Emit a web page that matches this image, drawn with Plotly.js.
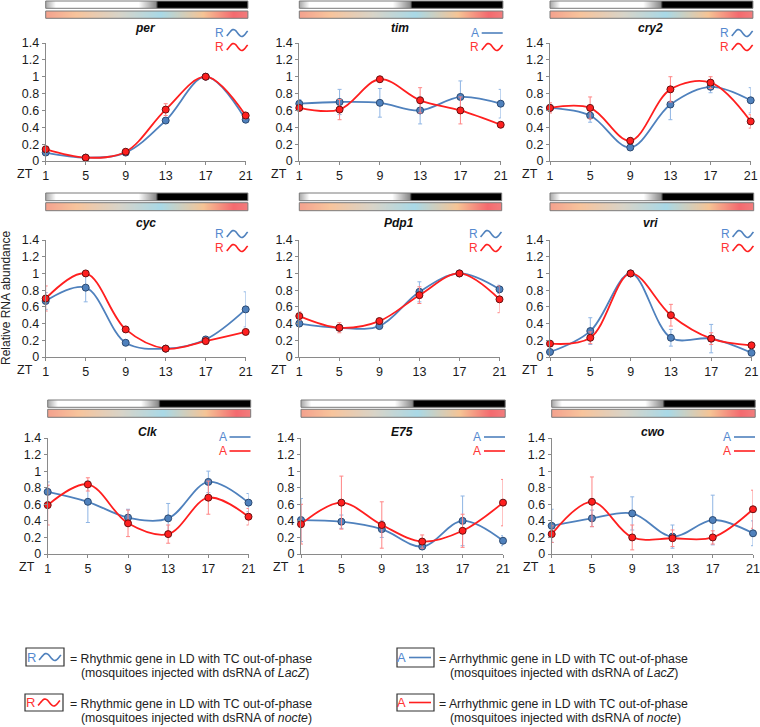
<!DOCTYPE html>
<html><head><meta charset="utf-8">
<script src="https://cdn.plot.ly/plotly-3.0.1.min.js"></script>
<style>html,body{margin:0;padding:0;background:#fff}</style>
</head><body><div id="chart" style="width:760px;height:727px"></div>
<script>
// ---------------- DATA ----------------
const zt = [1, 5, 9, 13, 17, 21];
const xTickLabels = ['1', '5', '9', '13', '17', '21'];
const yTickVals = [0, 0.2, 0.4, 0.6, 0.8, 1, 1.2, 1.4];
const yTickText = ['0', '0.2', '0.4', '0.6', '0.8', '1', '1.2', '1.4'];
const genes = ['per', 'tim', 'cry2', 'cyc', 'Pdp1', 'vri', 'Clk', 'E75', 'cwo'];
const lacZClass = ['R', 'A', 'R', 'R', 'R', 'R', 'A', 'A', 'A'];
const nocteClass = ['R', 'R', 'R', 'R', 'R', 'R', 'A', 'A', 'A'];

// dsRNA LacZ (blue)
const perLacZ  = [0.10, 0.04, 0.10, 0.48, 1.00, 0.49];
const timLacZ  = [0.68, 0.70, 0.69, 0.60, 0.76, 0.68];
const cry2LacZ = [0.63, 0.54, 0.16, 0.67, 0.88, 0.72];
const cycLacZ  = [0.67, 0.83, 0.17, 0.10, 0.21, 0.57];
const pdp1LacZ = [0.40, 0.35, 0.37, 0.78, 1.00, 0.81];
const vriLacZ  = [0.06, 0.31, 1.00, 0.23, 0.22, 0.05];
const clkLacZ  = [0.75, 0.63, 0.44, 0.43, 0.87, 0.62];
const e75LacZ  = [0.41, 0.39, 0.30, 0.09, 0.40, 0.16];
const cwoLacZ  = [0.34, 0.43, 0.49, 0.21, 0.41, 0.25];

const perLacZErr  = [0.02, 0.01, 0.02, 0.02, 0.01, 0.02];
const timLacZErr  = [0.05, 0.15, 0.17, 0.16, 0.19, 0.17];
const cry2LacZErr = [0.03, 0.08, 0.02, 0.18, 0.07, 0.15];
const cycLacZErr  = [0.10, 0.17, 0.03, 0.02, 0.03, 0.21];
const pdp1LacZErr = [0.02, 0.03, 0.02, 0.12, 0.01, 0.05];
const vriLacZErr  = [0.02, 0.16, 0.01, 0.10, 0.17, 0.02];
const clkLacZErr  = [0.12, 0.25, 0.10, 0.18, 0.13, 0.11];
const e75LacZErr  = [0.26, 0.08, 0.10, 0.02, 0.30, 0.06];
const cwoLacZErr  = [0.20, 0.10, 0.20, 0.14, 0.30, 0.15];

// dsRNA nocte (red)
const perNocte  = [0.14, 0.04, 0.11, 0.61, 1.00, 0.54];
const timNocte  = [0.63, 0.61, 0.97, 0.72, 0.60, 0.43];
const cry2Nocte = [0.63, 0.63, 0.24, 0.85, 0.93, 0.47];
const cycNocte  = [0.70, 1.00, 0.33, 0.10, 0.19, 0.30];
const pdp1Nocte = [0.49, 0.35, 0.43, 0.74, 1.00, 0.69];
const vriNocte  = [0.16, 0.23, 1.00, 0.50, 0.22, 0.14];
const clkNocte  = [0.59, 0.84, 0.37, 0.24, 0.68, 0.45];
const e75Nocte  = [0.36, 0.62, 0.35, 0.15, 0.28, 0.62];
const cwoNocte  = [0.24, 0.63, 0.20, 0.19, 0.20, 0.54];

const perNocteErr  = [0.02, 0.02, 0.02, 0.07, 0.01, 0.04];
const timNocteErr  = [0.03, 0.12, 0.03, 0.15, 0.16, 0.01];
const cry2NocteErr = [0.06, 0.13, 0.03, 0.15, 0.07, 0.08];
const cycNocteErr  = [0.15, 0.01, 0.02, 0.02, 0.04, 0.02];
const pdp1NocteErr = [0.05, 0.06, 0.03, 0.10, 0.01, 0.16];
const vriNocteErr  = [0.02, 0.07, 0.01, 0.13, 0.07, 0.02];
const clkNocteErr  = [0.24, 0.08, 0.16, 0.11, 0.20, 0.10];
const e75NocteErr  = [0.24, 0.32, 0.28, 0.08, 0.20, 0.28];
const cwoNocteErr  = [0.10, 0.30, 0.15, 0.10, 0.08, 0.23];

const lacZ = [perLacZ, timLacZ, cry2LacZ, cycLacZ, pdp1LacZ, vriLacZ, clkLacZ, e75LacZ, cwoLacZ];
const lacZErr = [perLacZErr, timLacZErr, cry2LacZErr, cycLacZErr, pdp1LacZErr, vriLacZErr, clkLacZErr, e75LacZErr, cwoLacZErr];
const nocte = [perNocte, timNocte, cry2Nocte, cycNocte, pdp1Nocte, vriNocte, clkNocte, e75Nocte, cwoNocte];
const nocteErr = [perNocteErr, timNocteErr, cry2NocteErr, cycNocteErr, pdp1NocteErr, vriNocteErr, clkNocteErr, e75NocteErr, cwoNocteErr];

// ---------------- LAYOUT / STYLE ----------------
const W = 760, H = 727;
const px = v => v / W;
const py = v => 1 - v / H;
const FONT = 'Liberation Sans, Arial, sans-serif';
const BLUE = '#4f81bd', BLUE_TXT = '#5589cf', BLUE_ERR = '#8fb5e4', BLUE_EDGE = '#2c4a72';
const RED = '#ff1f1f', RED_TXT = '#ff3535', RED_ERR = '#ff8585', RED_EDGE = '#6a1010';

const colPx = [
  [[45.7, 245.7], [299.3, 500.7], [550, 750.7]],
  [[45.7, 245.7], [299.3, 499.5], [550, 751.5]],
  [[47.7, 248.5], [301, 503], [551.7, 753]]
];
const rowPx = [[43, 161], [240, 357], [438, 554]];
const ldBarPx = [[1, 8.3], [193, 200.7], [400, 407.3]];
const tcBarPx = [[11, 18.3], [202.7, 210.7], [409.3, 417.3]];
const titleY = [28, 223, 432];
const legY = [[33, 47], [234, 248], [437, 451]];

function gradURL(stops) {
  const c = document.createElement('canvas');
  c.width = 600; c.height = 4;
  const g = c.getContext('2d');
  const lg = g.createLinearGradient(0, 0, 600, 0);
  stops.forEach(s => lg.addColorStop(s[0], s[1]));
  g.fillStyle = lg; g.fillRect(0, 0, 600, 4);
  return c.toDataURL();
}
const ldURL = gradURL([[0, '#a8a8a8'], [0.05, '#ffffff'], [0.46, '#ffffff'], [0.545, '#8a8a8a'], [0.556, '#000000'], [1, '#000000']]);
const tcURL = gradURL([[0, '#f4a28e'], [0.15, '#f8c49c'], [0.36, '#d9d4c8'], [0.57, '#a9d9e7'], [0.78, '#f6c495'], [0.93, '#f46a6f'], [1, '#f27d7d']]);

function wavePath(x0, x1, yc, amp) {
  let d = '';
  const n = 28;
  for (let k = 0; k <= n; k++) {
    const t = k / n;
    const ph = -0.3 * Math.PI + t * 2.5 * Math.PI;
    const X = x0 + (x1 - x0) * t;
    const Y = yc - amp * Math.sin(ph);
    d += (k ? 'L' : 'M') + px(X).toFixed(5) + ',' + py(Y).toFixed(5);
  }
  return d;
}

const traces = [];
const layout = {
  width: W, height: H, autosize: false,
  margin: {l: 0, r: 0, t: 0, b: 0, pad: 0},
  paper_bgcolor: '#fff', plot_bgcolor: '#fff',
  showlegend: false,
  font: {family: FONT, color: '#222'},
  shapes: [], annotations: [], images: []
};

function addSymbol(kind, color, txtColor, xr, yc, fontSize, waveW, amp) {
  // letter + wave (rhythmic) or letter + line (arrhythmic); xr = right end of symbol
  layout.annotations.push({
    xref: 'paper', yref: 'paper', x: px(xr - waveW - 1), y: py(yc), xanchor: 'right', yanchor: 'middle',
    text: kind, showarrow: false, font: {family: FONT, size: fontSize, color: txtColor}
  });
  if (kind === 'R') {
    layout.shapes.push({type: 'path', xref: 'paper', yref: 'paper', path: wavePath(xr - waveW, xr, yc, amp),
      line: {color: color, width: 1.6}});
  } else {
    layout.shapes.push({type: 'line', xref: 'paper', yref: 'paper', x0: px(xr - waveW), x1: px(xr), y0: py(yc), y1: py(yc),
      line: {color: color, width: 1.6}});
  }
}

for (let i = 0; i < genes.length; i++) {
  const r = Math.floor(i / 3), c = i % 3;
  const n = i + 1;
  const xa = n === 1 ? 'x' : 'x' + n, ya = n === 1 ? 'y' : 'y' + n;
  const [xl, xr] = colPx[r][c];
  const [yt, yb] = rowPx[r];

  layout[n === 1 ? 'xaxis' : 'xaxis' + n] = {
    domain: [px(xl), px(xr)], anchor: ya, range: [1, 21],
    tickvals: zt, ticktext: xTickLabels, ticks: 'outside', ticklen: 3, tickcolor: '#8a8a8a',
    showline: true, linecolor: '#8a8a8a', linewidth: 1, showgrid: false, zeroline: false,
    tickfont: {family: FONT, size: 12.5, color: '#1a1a1a'}, fixedrange: true
  };
  layout[n === 1 ? 'yaxis' : 'yaxis' + n] = {
    domain: [py(yb), py(yt)], anchor: xa, range: [0, 1.4],
    tickvals: yTickVals, ticktext: yTickText, ticks: 'outside', ticklen: 3, tickcolor: '#8a8a8a',
    showline: true, linecolor: '#8a8a8a', linewidth: 1, showgrid: false, zeroline: false,
    tickfont: {family: FONT, size: 12.5, color: '#1a1a1a'}, fixedrange: true
  };

  traces.push({
    x: zt, y: lacZ[i], xaxis: xa, yaxis: ya, type: 'scatter', mode: 'lines+markers',
    line: {shape: 'spline', smoothing: 1, color: BLUE, width: 1.8},
    marker: {size: 7, color: BLUE, line: {width: 1, color: BLUE_EDGE}},
    error_y: {type: 'data', array: lacZErr[i], visible: true, color: BLUE_ERR, thickness: 1, width: 2},
    cliponaxis: false, hoverinfo: 'skip', name: genes[i] + ' LacZ'
  });
  traces.push({
    x: zt, y: nocte[i], xaxis: xa, yaxis: ya, type: 'scatter', mode: 'lines+markers',
    line: {shape: 'spline', smoothing: 1, color: RED, width: 1.8},
    marker: {size: 7, color: RED, line: {width: 1, color: RED_EDGE}},
    error_y: {type: 'data', array: nocteErr[i], visible: true, color: RED_ERR, thickness: 1, width: 2},
    cliponaxis: false, hoverinfo: 'skip', name: genes[i] + ' nocte'
  });

  // light/dark and temperature-cycle bars
  const bl = xl, br = xr + 2.2;
  [[ldBarPx[r], ldURL], [tcBarPx[r], tcURL]].forEach(([yy, url]) => {
    layout.images.push({source: url, xref: 'paper', yref: 'paper', x: px(bl), y: py(yy[0]),
      sizex: (br - bl) / W, sizey: (yy[1] - yy[0]) / H, xanchor: 'left', yanchor: 'top', sizing: 'stretch', layer: 'below'});
    layout.shapes.push({type: 'rect', xref: 'paper', yref: 'paper', x0: px(bl), x1: px(br), y0: py(yy[0]), y1: py(yy[1]),
      line: {color: '#7a7a7a', width: 1}});
  });

  // gene title
  layout.annotations.push({xref: 'paper', yref: 'paper', x: px((xl + xr) / 2), y: py(titleY[r]),
    xanchor: 'center', yanchor: 'middle', showarrow: false,
    text: '<b><i>' + genes[i] + '</i></b>', font: {family: FONT, size: 12, color: '#111'}});

  // ZT label
  layout.annotations.push({xref: 'paper', yref: 'paper', x: px(xl - 20.5), y: py(yb + 13),
    xanchor: 'center', yanchor: 'middle', showarrow: false, text: 'ZT', font: {family: FONT, size: 12.5, color: '#1a1a1a'}});

  // per-panel class symbols
  addSymbol(lacZClass[i], BLUE, BLUE_TXT, xr + 2, legY[r][0], 12, 21, 3.5);
  addSymbol(nocteClass[i], RED, RED_TXT, xr + 2, legY[r][1], 12, 21, 3.5);
}

// y axis title
layout.annotations.push({xref: 'paper', yref: 'paper', x: px(6), y: py(298), textangle: -90,
  xanchor: 'center', yanchor: 'middle', showarrow: false, text: 'Relative RNA abundance',
  font: {family: FONT, size: 12, color: '#222'}});

// bottom key
const keyRows = [
  {box: [26, 648, 64, 666], kind: 'R', col: BLUE, txt: BLUE_TXT, tx: 68, t1: '= Rhythmic gene in LD with TC out-of-phase', t2: '(mosquitoes injected with dsRNA of <i>LacZ</i>)', ty: 659},
  {box: [25, 694, 63, 711], kind: 'R', col: RED, txt: RED_TXT, tx: 68, t1: '= Rhythmic gene in LD with TC out-of-phase', t2: '(mosquitoes injected with dsRNA of <i>nocte</i>)', ty: 704},
  {box: [397, 648, 434, 667], kind: 'A', col: BLUE, txt: BLUE_TXT, tx: 437, t1: '= Arrhythmic gene in LD with TC out-of-phase', t2: '(mosquitoes injected with dsRNA of <i>LacZ</i>)', ty: 659},
  {box: [397, 694, 434, 711], kind: 'A', col: RED, txt: RED_TXT, tx: 437, t1: '= Arrhythmic gene in LD with TC out-of-phase', t2: '(mosquitoes injected with dsRNA of <i>nocte</i>)', ty: 704}
];
keyRows.forEach(k => {
  const [x0, y0, x1, y1] = k.box;
  layout.shapes.push({type: 'rect', xref: 'paper', yref: 'paper', x0: px(x0), x1: px(x1), y0: py(y0), y1: py(y1),
    line: {color: '#333', width: 1.2}});
  addSymbol(k.kind, k.col, k.txt, x1 - 3, (y0 + y1) / 2, 13, 22, 3.5);
  layout.annotations.push({xref: 'paper', yref: 'paper', x: px(k.tx), y: py(k.ty), xanchor: 'left', yanchor: 'middle',
    showarrow: false, text: k.t1, font: {family: FONT, size: 12.3, color: '#222'}});
  layout.annotations.push({xref: 'paper', yref: 'paper', x: px(k.tx + 11), y: py(k.ty + 14), xanchor: 'left', yanchor: 'middle',
    showarrow: false, text: k.t2, font: {family: FONT, size: 12.3, color: '#222'}});
});

Plotly.newPlot('chart', traces, layout, {staticPlot: true, displayModeBar: false});
</script>
</body></html>
